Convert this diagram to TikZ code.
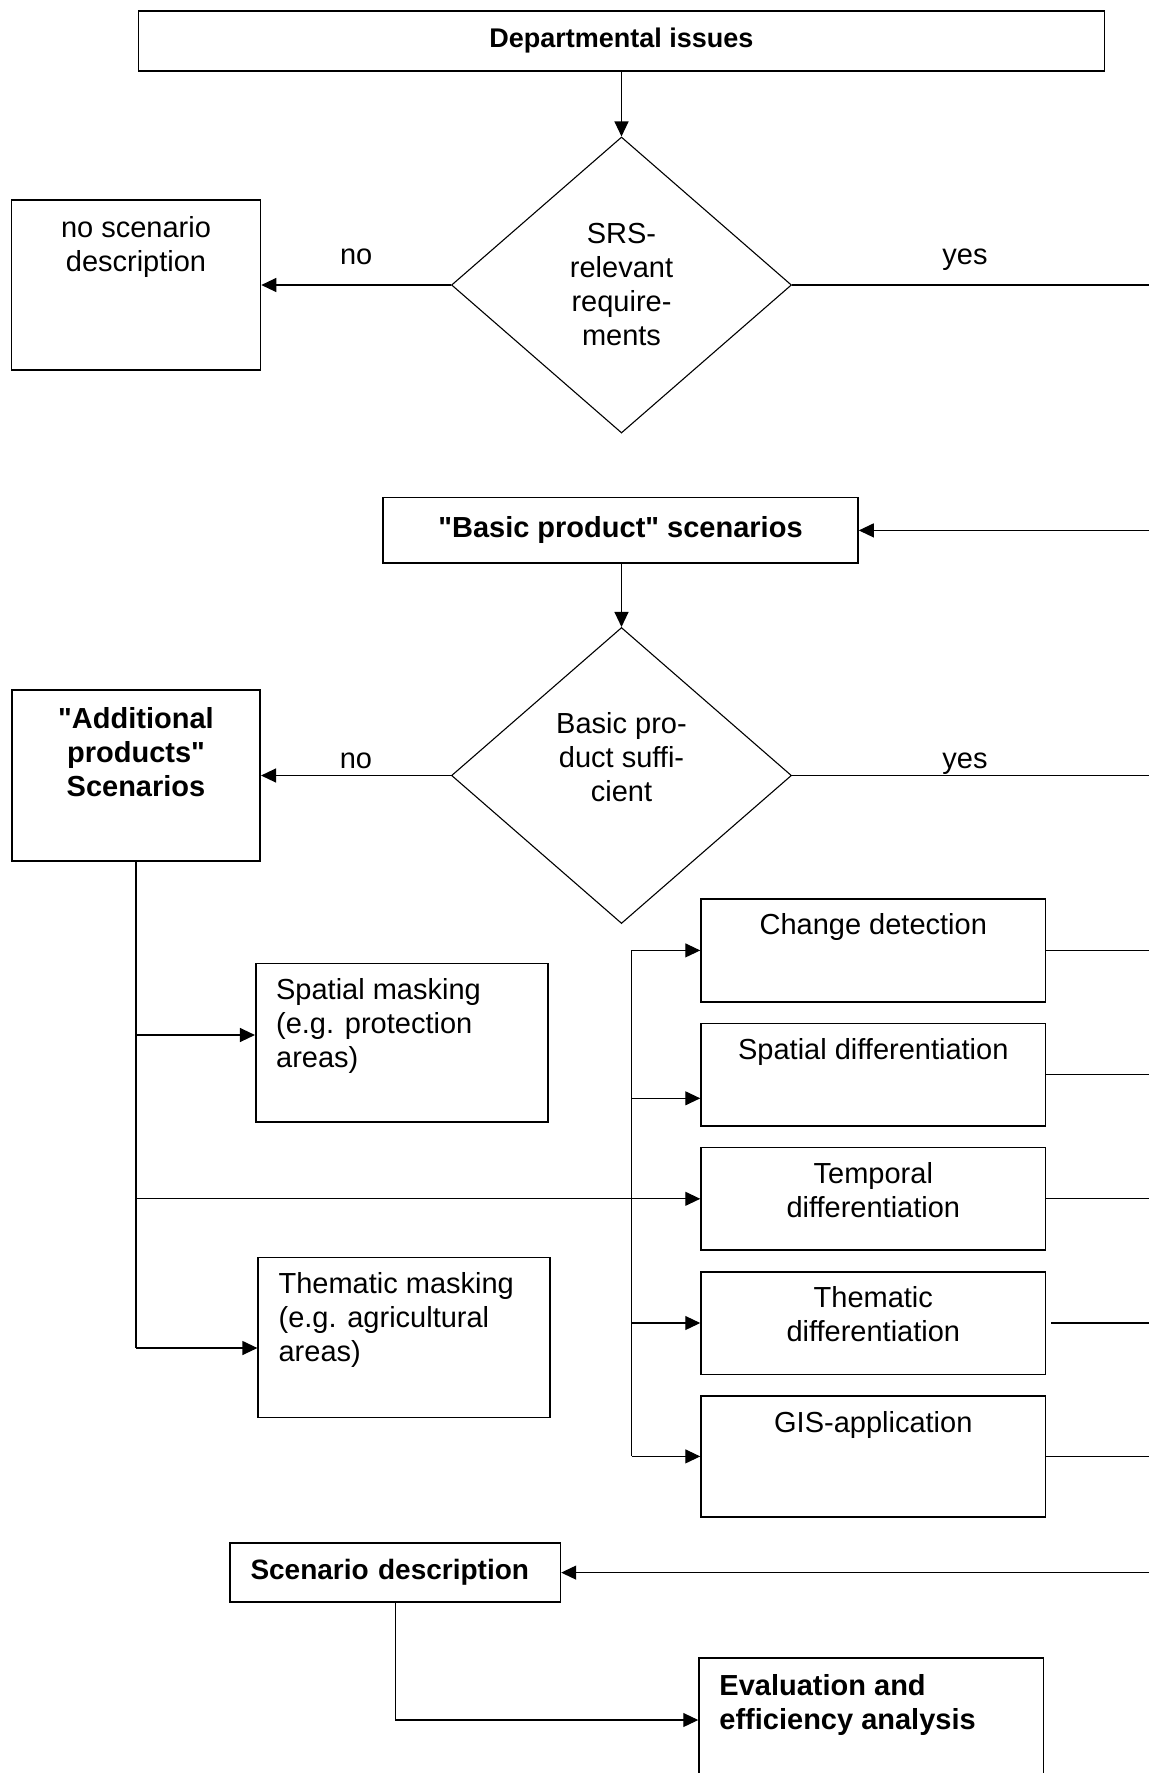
\documentclass[tikz,border=0pt]{standalone}
\usepackage{fontspec}
\setmainfont{Liberation Sans}[Ligatures=TeXOff]
\usetikzlibrary{arrows.meta,positioning,shapes.geometric}

\begin{document}
\begin{tikzpicture}[x=1pt,y=-1pt,>={Triangle[length=15pt,width=14pt]},
  node distance=20pt,
  box/.style={draw,rectangle,line width=1.6pt,inner sep=0pt},
  diff box/.style={box,minimum width=344.5pt,minimum height=102.6pt},
  choice/.style={draw,diamond,line width=1.1pt,inner sep=0pt,minimum width=340pt,minimum height=296pt},
  txt/.style={inner sep=0pt,align=center,font=\fontsize{29}{34}\selectfont},
  ltxt/.style={txt,align=left},
  btxt/.style={txt,font=\fontsize{29}{34}\selectfont\bfseries},
  line/.style={line width=1.2pt},
  lbl/.style={txt,anchor=base,yshift=21pt}]

  \path[use as bounding box] (0,0) rectangle (1149,1773);
  \clip (0,0) rectangle (1149,1773);
  \coordinate (edge) at (1149,0);
  \coordinate (bus) at (631.5,0);

  % boxes and decisions
  \node[box,minimum width=966pt,minimum height=60pt,font=\fontsize{27}{32}\selectfont\bfseries] (issues) at (621.5,41) {Departmental issues};
  \node[choice] (srs) at (621.5,285) {};
  \node[box,minimum width=249pt,minimum height=170.5pt] (nsd) at (136,285) {};
  \node[box,minimum width=475pt,minimum height=65.6pt,font=\fontsize{29}{34}\selectfont\bfseries] (bps) at (620.5,530.4) {"Basic product" scenarios};
  \node[choice] (suff) at (621.5,775.5) {};
  \node[box,minimum width=248.5pt,minimum height=170.7pt] (aps) at (136,775.5) {};
  \node[box,minimum width=292.5pt,minimum height=158.3pt] (spm) at (402,1042.6) {};
  \node[box,minimum width=292pt,minimum height=160pt] (thm) at (404.2,1337.5) {};
  \node[diff box] (cd) at (873.3,950.4) {};
  \node[diff box,below=of cd] (sd) {};
  \node[diff box,below=of sd] (td) {};
  \node[diff box,below=of td] (thd) {};
  \node[diff box,below=of thd,minimum height=121pt] (gis) {};
  \node[box,minimum width=330.4pt,minimum height=58.7pt,inner xsep=20.5pt,text width=289.4pt,align=left,font=\fontsize{28}{33}\selectfont\bfseries] (scd) at (395.2,1572.6) {Scenario description};
  \node[box,minimum width=344.5pt,minimum height=124pt] (eval) at (871.3,1720) {};

  % texts (base = last line)
  \node[txt,anchor=base] (srs-t) at ([yshift=-60pt]srs.center) {SRS-\\relevant\\require-\\ments};
  \node[txt,anchor=base] (nsd-t) at ([yshift=-73pt]nsd.north) {no scenario\\description};
  \node[txt,anchor=base] (suff-t) at ([yshift=-25.5pt]suff.center) {Basic pro-\\duct suffi-\\cient};
  \node[btxt,anchor=base] (aps-t) at ([yshift=-107pt]aps.north) {"Additional\\products"\\Scenarios};
  \node[ltxt,anchor=base west] (spm-t) at ([xshift=21pt,yshift=-105pt]spm.north west) {Spatial masking\\(e.g. protection\\areas)};
  \node[ltxt,anchor=base west] (thm-t) at ([xshift=21pt,yshift=-105pt]thm.north west) {Thematic masking\\(e.g. agricultural\\areas)};
  \node[txt,anchor=base] (cd-t) at ([yshift=-36.5pt]cd.north) {Change detection};
  \node[txt,anchor=base] (sd-t) at ([yshift=-36.5pt]sd.north) {Spatial differentiation};
  \node[txt,anchor=base] (td-t) at ([yshift=-70.5pt]td.north) {Temporal\\differentiation};
  \node[txt,anchor=base] (thd-t) at ([yshift=-70.5pt]thd.north) {Thematic\\differentiation};
  \node[txt,anchor=base] (gis-t) at ([yshift=-37pt]gis.north) {GIS-application};
  \node[btxt,align=left,anchor=base west] (eval-t) at ([xshift=21pt,yshift=-72pt]eval.north west) {Evaluation and\\efficiency analysis};

  % decisions
  \draw[line,->] (issues.south) -- (srs.north);
  \draw[line,->] (srs.west) -- node[lbl] {no} (nsd.east);
  \draw[line] (srs.east) -- node[lbl,xshift=-5.5pt] {yes} (srs.east -| edge);
  \draw[line,->] (bps.east -| edge) -- (bps.east);
  \draw[line,->] (bps.south -| suff) -- (suff.north);
  \draw[line,->] (suff.west) -- node[lbl,yshift=-13.5pt] {no} (aps.east);
  \draw[line] (suff.east) -- node[lbl,xshift=-5.5pt,yshift=-13.5pt] {yes} (suff.east -| edge);

  % additional products
  \coordinate (spm-in) at ([yshift=7.6pt]spm.west);
  \coordinate (thm-in) at ([yshift=-10.5pt]thm.west);
  \draw[line] (aps.south) -- (aps.south |- thm-in);
  \draw[line,->] (aps.south |- spm-in) -- (spm-in);
  \draw[line,->] (aps.south |- thm-in) -- (thm-in);
  \draw[line,->] (aps.south |- td) -- (td);

  % basic product variants
  \coordinate (sd-in) at ([yshift=-23.7pt]sd.west);
  \draw[line] (cd -| bus) -- (gis -| bus);
  \foreach \n in {cd,sd-in,thd,gis}
    \draw[line,->] (\n -| bus) -- (\n);
  \foreach \n in {cd,sd,td,gis}
    \draw[line] (\n.east) -- (\n.east -| edge);
  \draw[line] ([xshift=5pt]thd.east) -- (thd.east -| edge);

  % scenario description
  \draw[line,->] (scd.east -| edge) -- (scd.east);
  \draw[line,->] (scd.south) |- (eval.west);
\end{tikzpicture}
\end{document}
